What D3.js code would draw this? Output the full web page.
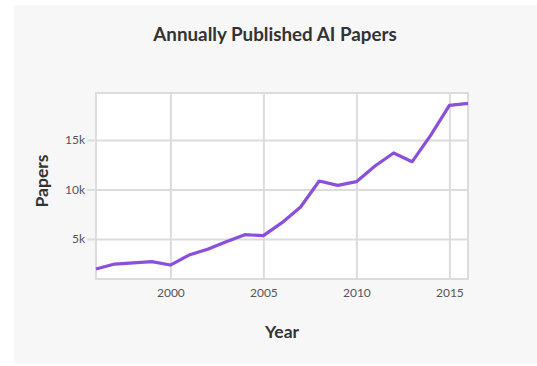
<!DOCTYPE html>
<html><head><meta charset="utf-8">
<script src="https://cdn.jsdelivr.net/npm/d3@7"></script>
<style>
html,body{margin:0;padding:0;background:#fff;}
text{font-family:Lato,"Open Sans",sans-serif;}
</style></head>
<body><svg id="c" width="537" height="366"></svg>
<script>
const years = [1996,1997,1998,1999,2000,2001,2002,2003,2004,2005,2006,2007,2008,2009,2010,2011,2012,2013,2014,2015,2016];
const papers = [1970,2470,2580,2710,2370,3380,3960,4730,5440,5340,6650,8230,10860,10420,10790,12370,13690,12810,15500,18500,18700];
const xTicks = [2000,2005,2010,2015];
const yTicks = [5000,10000,15000];
const yLabels = ["5k","10k","15k"];

const svg = d3.select("#c");
svg.append("rect").attr("x",14).attr("y",5).attr("width",523).attr("height",359).attr("fill","#f7f7f7");

const L=96,R=468,T=93,B=279;
const x = d3.scaleLinear().domain([1996,2016]).range([L,R]);
const y = d3.scaleLinear().domain([960,19750]).range([B,T]);

svg.append("rect").attr("x",L).attr("y",T).attr("width",R-L).attr("height",B-T).attr("fill","#fff");

const grid="#dcdcdc";
const xAxis = d3.axisBottom(x).tickValues(xTicks).tickFormat(d3.format("d")).tickSize(-(B-T)).tickPadding(9);
const gx = svg.append("g").attr("transform",`translate(0,${B})`).call(xAxis);
gx.select(".domain").remove();
gx.selectAll("line").attr("stroke",grid).attr("stroke-width",2);
gx.selectAll("text").attr("fill","#555").attr("font-size",12);

const yAxis = d3.axisLeft(y).tickValues(yTicks).tickFormat((d,i)=>yLabels[i]).tickSize(-(R-L)).tickPadding(3);
const gy = svg.append("g").attr("transform",`translate(${L},0)`).call(yAxis);
gy.select(".domain").remove();
gy.selectAll("line").attr("stroke",grid).attr("stroke-width",2).attr("x1",-9);
gy.selectAll("text").attr("fill","#555").attr("font-size",12).attr("x",-11);

svg.append("rect").attr("x",L).attr("y",T).attr("width",R-L).attr("height",B-T)
  .attr("fill","none").attr("stroke",grid).attr("stroke-width",2);

const line = d3.line().x((d,i)=>x(years[i])).y(d=>y(d));
svg.append("path").datum(papers).attr("d",line).attr("fill","none")
  .attr("stroke","#8a4fdc").attr("stroke-width",3.2).attr("stroke-linejoin","round");

svg.append("text").attr("x",275).attr("y",41).attr("text-anchor","middle")
  .attr("font-size",18.8).attr("font-weight",700).attr("fill","#333").text("Annually Published AI Papers");
svg.append("text").attr("x",282).attr("y",338).attr("text-anchor","middle")
  .attr("font-size",17.5).attr("font-weight",700).attr("fill","#333").text("Year");
svg.append("text").attr("transform","translate(48,181) rotate(-90)").attr("text-anchor","middle")
  .attr("font-size",17.5).attr("font-weight",700).attr("fill","#333").text("Papers");
</script></body></html>
